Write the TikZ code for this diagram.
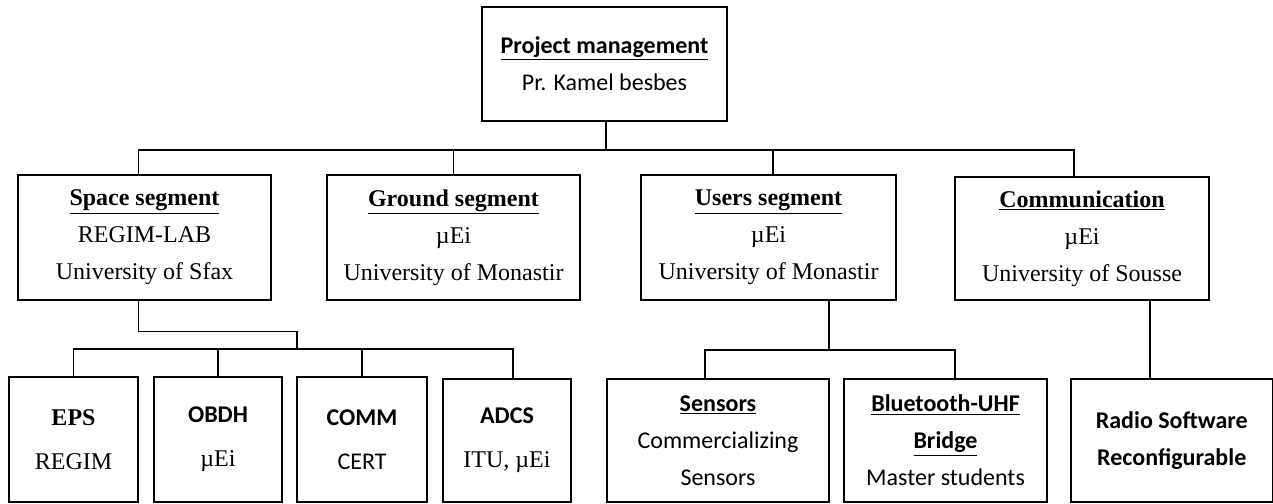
\documentclass[tikz,border=0pt]{standalone}
\usepackage{fontspec}
\setmainfont{Liberation Serif}
\newfontfamily\calfont{Carlito}
\tikzset{
  orgbox/.style={draw,line width=1pt,align=center,inner sep=0pt,font=\fontsize{18}{27.75}\selectfont},
  orgcal/.style={orgbox,font=\calfont\fontsize{18}{27.75}\selectfont},
  orgcalb/.style={orgbox,font=\calfont\bfseries\fontsize{18}{27.75}\selectfont},
  orgsize/.style 2 args={minimum width=#1*0.75pt,minimum height=#2*0.75pt},
  orgline/.style={line width=1pt},
}
\begin{document}
\begin{tikzpicture}[x=0.75pt,y=-0.75pt]
 % project organisation: management, segments, subsystems
\useasboundingbox (0,0) rectangle (1273,503);
\node[orgcal,orgsize={245}{114}] (pm) at (604.5,64) {{\bfseries\underline{Project management}}\\Pr. Kamel besbes};
\node[orgbox,orgsize={253}{125}] (space) at (144.5,237.5) {{\bfseries\underline{Space segment}}\\REGIM-LAB\\University of Sfax};
\node[orgbox,orgsize={253}{125}] (ground) at (453.5,237.5) {{\bfseries\underline{Ground segment}}\\µEi\\University of Monastir};
\node[orgbox,orgsize={255}{125}] (users) at (768.5,237.5) {{\bfseries\underline{Users segment}}\\µEi\\University of Monastir};
\node[orgbox,orgsize={254}{123}] (comm) at (1082,238.5) {{\bfseries\underline{Communication}}\\µEi\\University of Sousse};
\node[orgbox,orgsize={129}{125}] (eps) at (73.5,439.5) {{\bfseries EPS}\\[5pt]REGIM};
\node[orgbox,orgsize={128}{125}] (obdh) at (218,439.5) {{\calfont\bfseries OBDH}\\[5pt]µEi};
\node[orgcal,orgsize={130}{125}] (commsub) at (362,439.5) {{\bfseries COMM}\\[5pt]CERT};
\node[orgbox,orgsize={128}{123}] (adcs) at (507,440.5) {{\calfont\bfseries ADCS}\\[5pt]ITU, µEi};
\node[orgcal,orgsize={222}{123}] (sensors) at (718,440.5) {{\bfseries\underline{Sensors}}\\Commercializing\\Sensors};
\node[orgcal,orgsize={203}{123}] (bridge) at (945.5,440.5) {{\bfseries\underline{Bluetooth-UHF}}\\{\bfseries\underline{Bridge}}\\Master students};
\node[orgcalb,orgsize={201.5}{123}] (radio) at (1171.75,440.5) {Radio Software\\Reconfigurable};
\coordinate (tjoin) at (606,150);
\coordinate (sjoin) at (297,349);
\coordinate (ujoin) at (829,350);
\coordinate (cjoin) at (1150,340);
\draw[orgline] (pm.south -| tjoin) -- (tjoin);
\draw[orgline] (tjoin) -| ([xshift=-4.5pt]space.north);
\draw[orgline] (tjoin) -| (ground.north);
\draw[orgline] (tjoin) -| ([xshift=3.4pt]users.north);
\draw[orgline] (tjoin) -| ([xshift=-6pt]comm.north);
\draw[orgline] ([xshift=-4.5pt]space.south) -- ++(0,31) -| (sjoin);
\draw[orgline] (sjoin) -| (eps.north);
\draw[orgline] (sjoin) -| (obdh.north);
\draw[orgline] (sjoin) -| (commsub.north);
\draw[orgline] (sjoin) -| ([xshift=4.5pt]adcs.north);
\draw[orgline] (users.south -| ujoin) -- (ujoin);
\draw[orgline] (ujoin) -| ([xshift=-9.75pt]sensors.north);
\draw[orgline] (ujoin) -| ([xshift=7pt]bridge.north);
\draw[orgline] (comm.south -| cjoin) -- (radio.north -| cjoin);
\end{tikzpicture}
\end{document}
